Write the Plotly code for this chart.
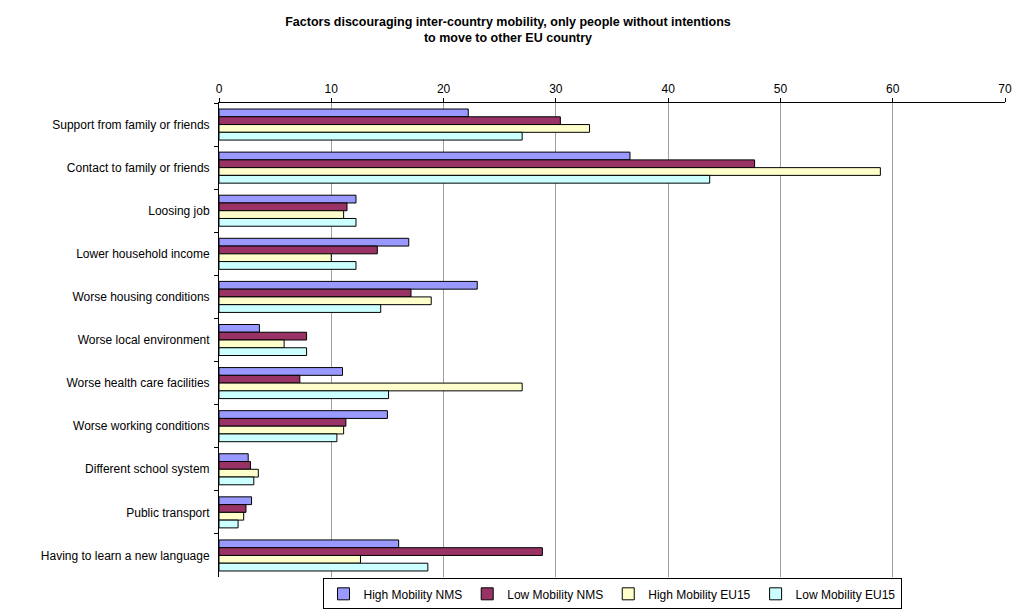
import plotly.graph_objects as go

categories = [
    "Support from family or friends",
    "Contact to family or friends",
    "Loosing job",
    "Lower household income",
    "Worse housing conditions",
    "Worse local environment",
    "Worse health care facilities",
    "Worse working conditions",
    "Different school system",
    "Public transport",
    "Having to learn a new language",
]

high_mobility_nms = [22.2, 36.6, 12.2, 16.9, 23.0, 3.6, 11.0, 15.0, 2.6, 2.9, 16.0]
low_mobility_nms = [30.4, 47.7, 11.4, 14.1, 17.1, 7.8, 7.2, 11.3, 2.8, 2.4, 28.8]
high_mobility_eu15 = [33.0, 58.9, 11.1, 10.0, 18.9, 5.8, 27.0, 11.1, 3.5, 2.2, 12.6]
low_mobility_eu15 = [27.0, 43.7, 12.2, 12.2, 14.4, 7.8, 15.1, 10.5, 3.1, 1.7, 18.6]

series = [
    ("High Mobility NMS", high_mobility_nms, "#9999FF"),
    ("Low Mobility NMS", low_mobility_nms, "#993366"),
    ("High Mobility EU15", high_mobility_eu15, "#FFFFCC"),
    ("Low Mobility EU15", low_mobility_eu15, "#CCFFFF"),
]

fig = go.Figure()
for name, values, color in series:
    fig.add_trace(go.Bar(
        name=name,
        y=categories,
        x=values,
        orientation="h",
        marker=dict(color=color, line=dict(color="black", width=1)),
    ))

fig.update_layout(
    width=1016,
    height=613,
    paper_bgcolor="white",
    plot_bgcolor="white",
    barmode="group",
    bargap=0.28,
    bargroupgap=0,
    margin=dict(l=219, r=11, t=103, b=36, autoexpand=False),
    font=dict(family="Liberation Sans, Arial, sans-serif", size=12, color="black"),
    title=dict(
        text="Factors discouraging inter-country mobility, only people without intentions<br>to move to other EU country",
        x=0.5,
        xanchor="center",
        yref="container",
        y=0.958,
        yanchor="middle",
        font=dict(family="Liberation Sans, Arial, sans-serif", size=12.5, color="black", weight="bold"),
    ),
    xaxis=dict(
        side="top",
        range=[0, 70],
        dtick=10,
        showgrid=True,
        gridcolor="#A0A0A0",
        gridwidth=1,
        showline=True,
        linecolor="black",
        linewidth=1,
        ticks="outside",
        ticklen=4,
        tickcolor="black",
        zeroline=False,
        automargin=False,
    ),
    yaxis=dict(
        autorange="reversed",
        showline=True,
        linecolor="black",
        linewidth=1,
        ticks="outside",
        ticklen=4,
        tickcolor="black",
        tickson="boundaries",
        showgrid=False,
        ticklabelstandoff=6,
        automargin=False,
    ),
    legend=dict(
        orientation="h",
        x=0.5,
        xanchor="center",
        yref="container",
        y=0.006,
        yanchor="bottom",
        bordercolor="black",
        borderwidth=1,
        font=dict(size=12),
        itemwidth=30,
        tracegroupgap=0,
    ),
)

fig.write_html("out.html")
